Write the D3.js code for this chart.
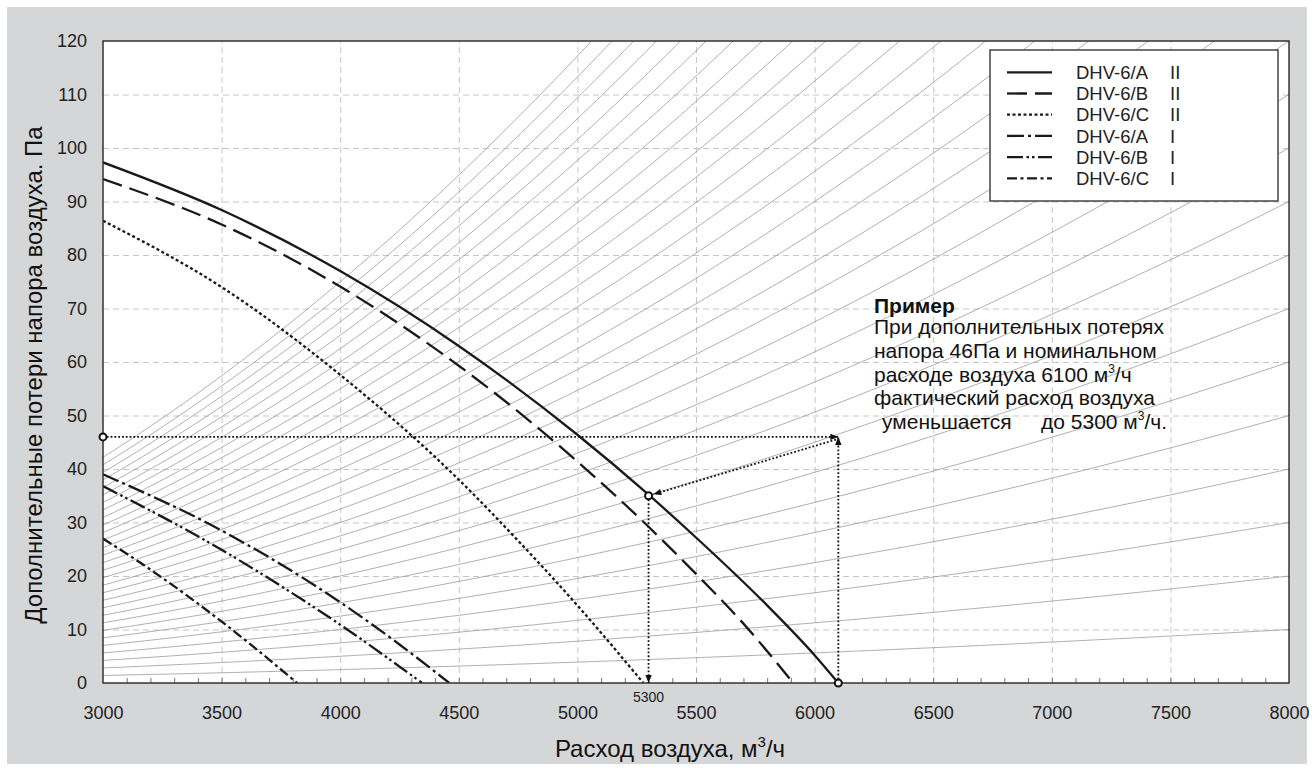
<!DOCTYPE html>
<html>
<head>
<meta charset="utf-8">
<script src="https://cdn.jsdelivr.net/npm/d3@7"></script>
<style>
	body { margin: 0; background: #fff; }
	svg { display: block; font-family: 'Liberation Sans', Arial, sans-serif; }
</style>
</head>
<body>
<svg></svg>
<script>

// axis ticks
const flowTicks = [3000, 3500, 4000, 4500, 5000, 5500, 6000, 6500, 7000, 7500, 8000]
const lossTicks = [0, 10, 20, 30, 40, 50, 60, 70, 80, 90, 100, 110, 120]

// system curves: pressure loss (Pa) reached at 8000 m3/h
const systemAt8000 = [10, 20, 30, 40, 50, 60, 70, 80, 90, 100, 110, 120, 130, 140, 150,
	160, 170, 180, 190, 200, 210, 220, 230, 240, 250, 260, 270, 280, 290, 300]

// fan curves
const flowA2 = [3000, 3500, 4000, 4500, 5000, 5300, 5500, 5800, 6000, 6100]
const lossA2 = [97.3, 88.4, 77, 63, 46.4, 35.2, 27.2, 14.5, 5.2, 0]
const flowB2 = [3000, 3500, 4000, 4500, 5000, 5300, 5500, 5700, 5910]
const lossB2 = [94.2, 85.7, 74.1, 59.3, 41.4, 29.2, 20.4, 11.1, 0]
const flowC2 = [3000, 3500, 4000, 4500, 4750, 5000, 5278]
const lossC2 = [86.4, 74, 57.6, 38, 26.6, 14.5, 0]
const flowA1 = [3000, 3500, 4000, 4250, 4460]
const lossA1 = [39, 28.5, 15.1, 7.2, 0]
const flowB1 = [3000, 3500, 3843, 4000, 4345]
const lossB1 = [36.8, 24.9, 15.5, 10.9, 0]
const flowC1 = [3000, 3200, 3380, 3600, 3818]
const lossC1 = [27, 21.2, 15.5, 8, 0]

const seriesNames = ['DHV-6/A', 'DHV-6/B', 'DHV-6/C', 'DHV-6/A', 'DHV-6/B', 'DHV-6/C']
const seriesModes = ['II', 'II', 'II', 'I', 'I', 'I']

// worked example
const exampleLoss = 46
const nominalFlow = 6100
const actualFlow = 5300
const actualLoss = 35

window.onload = () => {

	let width = 1314, height = 771
	let left = 103, right = 1289, top = 41, bottom = 683

	let svg = d3.select('svg')
	.attr('width', width)
	.attr('height', height)

	svg.append('rect')
	.attr('x', 7).attr('y', 7)
	.attr('width', 1300).attr('height', 757)
	.attr('fill', '#d5d6d8')

	svg.append('rect')
	.attr('x', left).attr('y', top)
	.attr('width', right - left).attr('height', bottom - top)
	.attr('fill', '#fff')

	let scX = d3.scaleLinear().domain([3000, 8000]).range([left, right])
	let scY = d3.scaleLinear().domain([0, 120]).range([bottom, top])

	let defs = svg.append('defs')
	defs.append('clipPath').attr('id', 'plot')
	.append('rect')
	.attr('x', left).attr('y', top)
	.attr('width', right - left).attr('height', bottom - top)

	defs.append('marker')
	.attr('id', 'arrow')
	.attr('viewBox', '0 0 10 10')
	.attr('refX', 10).attr('refY', 5)
	.attr('markerWidth', 9).attr('markerHeight', 8)
	.attr('markerUnits', 'userSpaceOnUse')
	.attr('orient', 'auto')
	.append('path')
	.attr('d', 'M0,1 L10,5 L0,9 Z')
	.attr('fill', '#111')

	// dashed grid
	svg.append('g')
	.attr('transform', `translate(0, ${bottom})`)
	.call(d3.axisBottom(scX).tickValues(flowTicks.slice(1, -1)).tickSize(-(bottom - top)).tickFormat(''))
	.call(g => g.select('.domain').remove())
	.selectAll('line')
	.attr('stroke', '#c6c6c6')
	.attr('stroke-dasharray', '6,4')

	svg.append('g')
	.attr('transform', `translate(${left}, 0)`)
	.call(d3.axisLeft(scY).tickValues(lossTicks.slice(1, -1)).tickSize(-(right - left)).tickFormat(''))
	.call(g => g.select('.domain').remove())
	.selectAll('line')
	.attr('stroke', '#c6c6c6')
	.attr('stroke-dasharray', '6,4')

	// system curves (parabolas through the origin)
	let flowSamples = d3.range(3000, 8001, 20)
	svg.append('g')
	.attr('clip-path', 'url(#plot)')
	.selectAll('path')
	.data(systemAt8000).join('path')
	.attr('d', p => d3.line()
		.x(q => scX(q))
		.y(q => scY(p * (q / 8000) ** 2))(flowSamples))
	.attr('fill', 'none')
	.attr('stroke', '#9a9a9a')
	.attr('stroke-width', 0.8)

	// minor ticks on the flow axis
	svg.append('g')
	.attr('transform', `translate(0, ${bottom})`)
	.call(d3.axisBottom(scX).tickValues(d3.range(3100, 8000, 100)).tickSize(-5).tickFormat(''))
	.call(g => g.select('.domain').remove())
	.selectAll('line')
	.attr('stroke', '#777')

	// fan curves
	let series = [
		{ flow: flowA2, loss: lossA2, dash: null },
		{ flow: flowB2, loss: lossB2, dash: '20,8' },
		{ flow: flowC2, loss: lossC2, dash: '3,2.5' },
		{ flow: flowA1, loss: lossA1, dash: '17,4,3,4' },
		{ flow: flowB1, loss: lossB1, dash: '16,3.5,2.5,3,2.5,3.5' },
		{ flow: flowC1, loss: lossC1, dash: '10,3.5,3,3.5' }
	]

	let fanLine = d3.line()
	.x(d => scX(d[0]))
	.y(d => scY(d[1]))
	.curve(d3.curveMonotoneX)

	svg.append('g')
	.attr('clip-path', 'url(#plot)')
	.selectAll('path')
	.data(series).join('path')
	.attr('d', s => fanLine(s.flow.map((f, i) => [f, s.loss[i]])))
	.attr('fill', 'none')
	.attr('stroke', '#1a1a1a')
	.attr('stroke-width', 2.3)
	.attr('stroke-dasharray', s => s.dash)

	// plot frame
	svg.append('rect')
	.attr('x', left).attr('y', top)
	.attr('width', right - left).attr('height', bottom - top)
	.attr('fill', 'none')
	.attr('stroke', '#333')
	.attr('stroke-width', 1.5)

	// tick labels
	svg.append('g')
	.attr('transform', `translate(0, ${bottom})`)
	.call(d3.axisBottom(scX).tickValues(flowTicks).tickSize(0).tickPadding(23).tickFormat(d3.format('d')))
	.call(g => g.select('.domain').remove())
	.call(g => g.attr('font-family', null).attr('font-size', 18))
	.selectAll('text')
	.attr('fill', '#222')

	svg.append('g')
	.attr('transform', `translate(${left}, 0)`)
	.call(d3.axisLeft(scY).tickValues(lossTicks).tickSize(0).tickPadding(16))
	.call(g => g.select('.domain').remove())
	.call(g => g.attr('font-family', null).attr('font-size', 18))
	.selectAll('text')
	.attr('fill', '#222')

	// axis titles
	let xTitle = svg.append('text')
	.attr('x', 670).attr('y', 757)
	.attr('text-anchor', 'middle')
	.attr('font-size', 24)
	.attr('fill', '#111')
	xTitle.append('tspan').text('Расход воздуха, м')
	xTitle.append('tspan').attr('dy', -10).attr('font-size', 15).text('3')
	xTitle.append('tspan').attr('dy', 10).text('/ч')

	svg.append('text')
	.attr('transform', 'translate(42, 375) rotate(-90)')
	.attr('text-anchor', 'middle')
	.attr('font-size', 24)
	.attr('fill', '#111')
	.text('Дополнительные потери напора воздуха. Па')

	// worked example
	let dotted = (a, b, gap) => {
		let x1 = scX(a[0]), y1 = scY(a[1]), x2 = scX(b[0]), y2 = scY(b[1])
		let len = Math.hypot(x2 - x1, y2 - y1)
		x2 -= (x2 - x1) / len * gap
		y2 -= (y2 - y1) / len * gap
		svg.append('line')
		.attr('x1', x1).attr('y1', y1).attr('x2', x2).attr('y2', y2)
		.attr('stroke', '#111')
		.attr('stroke-width', 1.8)
		.attr('stroke-dasharray', '1.8,2')
		.attr('marker-end', 'url(#arrow)')
	}

	dotted([3000, exampleLoss], [nominalFlow, exampleLoss], 0)
	dotted([nominalFlow, 0], [nominalFlow, exampleLoss], 0)
	dotted([nominalFlow - 10, exampleLoss - 0.5], [actualFlow, actualLoss], 5)
	dotted([actualFlow, actualLoss], [actualFlow, 0], 0)

	svg.selectAll('circle.mark')
	.data([[3000, exampleLoss], [actualFlow, actualLoss], [nominalFlow, 0]])
	.join('circle')
	.attr('class', 'mark')
	.attr('cx', d => scX(d[0]))
	.attr('cy', d => scY(d[1]))
	.attr('r', 3.5)
	.attr('fill', '#fff')
	.attr('stroke', '#111')
	.attr('stroke-width', 2)

	svg.append('text')
	.attr('x', scX(actualFlow)).attr('y', 702)
	.attr('text-anchor', 'middle')
	.attr('font-size', 14)
	.attr('fill', '#222')
	.text(actualFlow)

	let note = svg.append('g').attr('font-size', 21).attr('fill', '#111')
	note.append('text').attr('x', 874).attr('y', 313).attr('font-weight', 'bold').text('Пример')
	note.append('text').attr('x', 874).attr('y', 334).text('При дополнительных потерях')
	note.append('text').attr('x', 874).attr('y', 358).text(`напора ${exampleLoss}Па и номинальном`)
	let l3 = note.append('text').attr('x', 874).attr('y', 381.5)
	l3.append('tspan').text(`расходе воздуха ${nominalFlow} м`)
	l3.append('tspan').attr('dy', -9).attr('font-size', 12).text('3')
	l3.append('tspan').attr('dy', 9).text('/ч')
	note.append('text').attr('x', 874).attr('y', 405).text('фактический расход воздуха')
	note.append('text').attr('x', 882).attr('y', 428.5).text('уменьшается')
	let l5 = note.append('text').attr('x', 1041).attr('y', 428.5)
	l5.append('tspan').text(`до ${actualFlow} м`)
	l5.append('tspan').attr('dy', -9).attr('font-size', 12).text('3')
	l5.append('tspan').attr('dy', 9).text('/ч.')

	// legend
	let legend = svg.append('g')
	legend.append('rect')
	.attr('x', 990).attr('y', 50)
	.attr('width', 288).attr('height', 151)
	.attr('fill', '#fff')
	.attr('stroke', '#444')
	.attr('stroke-width', 1.5)

	let rows = legend.selectAll('g.row')
	.data(series).join('g')
	.attr('class', 'row')
	.attr('transform', (d, i) => `translate(0, ${72.3 + i * 21.2})`)

	rows.append('line')
	.attr('x1', 1007).attr('x2', 1052)
	.attr('stroke', '#1a1a1a')
	.attr('stroke-width', 2.3)
	.attr('stroke-dasharray', d => d.dash)

	rows.append('text')
	.attr('x', 1076).attr('dy', '0.36em')
	.attr('font-size', 18.5)
	.attr('fill', '#222')
	.text((d, i) => seriesNames[i])

	rows.append('text')
	.attr('x', 1170).attr('dy', '0.36em')
	.attr('font-size', 18.5)
	.attr('fill', '#222')
	.text((d, i) => seriesModes[i])
}
</script>
</body>
</html>
